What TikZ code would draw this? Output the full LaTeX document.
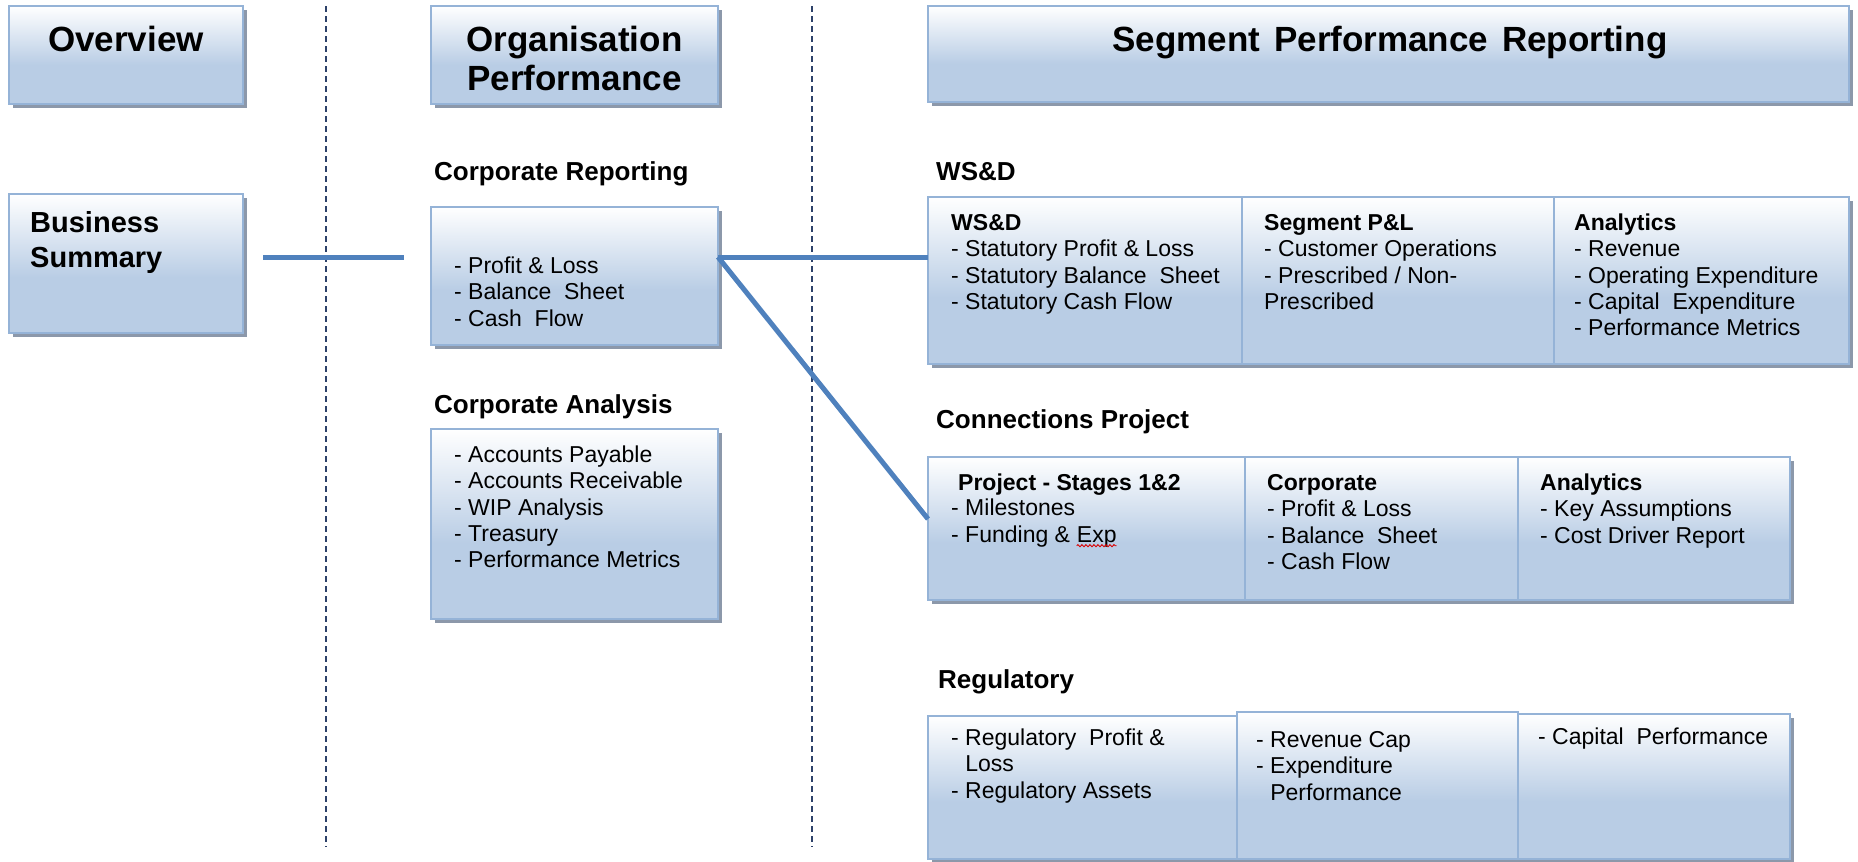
\documentclass[tikz,border=0pt]{standalone}
\usepackage{fontspec}
\setmainfont{Liberation Sans}
\usetikzlibrary{fit,shadows,decorations.pathmorphing}

\definecolor{boxblue}{RGB}{185,205,229}
\definecolor{boxedge}{RGB}{149,179,215}
\definecolor{boxshadow}{RGB}{140,152,170}
\definecolor{linkblue}{RGB}{79,129,189}
\definecolor{guideblue}{RGB}{45,65,105}

% white at the top, fading into pale blue over the lower half
\pgfdeclareverticalshading{boxfade}{100bp}{color(0bp)=(boxblue); color(25bp)=(boxblue); color(45bp)=(boxblue); color(75bp)=(white); color(100bp)=(white)}

\newcommand\bodyfont{\fontsize{23}{26.4}\selectfont}

\begin{document}
\begin{tikzpicture}[x=1pt,y=-1pt,
  box/.style={draw=boxedge, line width=2.4pt, shade, shading=boxfade,
    inner sep=0pt, outer sep=0pt,
    general shadow={fill=boxshadow, shadow xshift=3.5pt, shadow yshift=-4pt}},
  celltext/.style={anchor=north west, inner sep=0pt, align=left, font=\bodyfont},
  section/.style={anchor=base west, inner sep=0pt, font=\fontsize{26}{30}\selectfont\bfseries},
  title/.style={inner sep=0pt, align=center, font=\fontsize{35}{39.5}\selectfont\bfseries},
  link/.style={draw=linkblue, line width=5pt},
  guide/.style={draw=guideblue, line width=1.3pt, dash pattern=on 6pt off 4pt}]

\useasboundingbox (0,0) rectangle (1858,862);

% column dividers
\draw[guide] (326,6) -- (326,847);
\draw[guide] (812,6) -- (812,847);

% column headers
\node[box, fit={(9,6) (243,104)}] (ov) {};
\node[title, anchor=base] (ovt) at (126,51.5) {Overview};
\node[box, fit={(431,6) (718,104)}] (op) {};
\node[title] (opt) at (574.5,58.5) {Organisation\\Performance};
\node[box, fit={(928,6) (1849,102)}] (sp) {};
\node[title, anchor=base] (spt) at (1390,51.5) {Segment\hspace{0.4em}Performance\hspace{0.4em}Reporting};

% overview column
\node[box, fit={(9,194) (243,333)}] (bs) {};
\node[anchor=north west, inner sep=0pt, align=left,
  font=\fontsize{29}{35}\selectfont\bfseries] (bst) at (30,207.5) {\strut Business\\Summary};

% organisation column
\node[section] (crl) at (434,180.3) {Corporate Reporting};
\node[box, fit={(431,207) (718,345)}] (cr) {};
\node[celltext] (crt) at (454,254.7) {\strut- Profit \& Loss\\- Balance\ \ Sheet\\- Cash\ \ Flow};

\node[section] (cal) at (434,413.3) {Corporate Analysis};
\node[box, fit={(431,429) (718,619)}] (ca) {};
\node[celltext] (cat) at (454,443.7) {\strut- Accounts Payable\\- Accounts Receivable\\- WIP Analysis\\- Treasury\\- Performance Metrics};

% segment column: WS&D
\node[section] (wsl) at (936,180.3) {WS\&D};
\node[box, fit={(928,197) (1242,364)}] (ws1) {};
\node[box, fit={(1242,197) (1554,364)}] (ws2) {};
\node[box, fit={(1554,197) (1849,364)}] (ws3) {};
\node[celltext] (ws1t) at (951,211.7) {\strut\textbf{WS\&D}\\- Statutory Profit \& Loss\\- Statutory Balance\ \ Sheet\\- Statutory Cash Flow};
\node[celltext] (ws2t) at (1264,211.7) {\strut\textbf{Segment P\&L}\\- Customer Operations\\- Prescribed / Non-\\Prescribed};
\node[celltext] (ws3t) at (1574,211.7) {\strut\textbf{Analytics}\\- Revenue\\- Operating Expenditure\\- Capital\ \ Expenditure\\- Performance Metrics};

% segment column: Connections Project
\node[section] (cpl) at (936,428.3) {Connections Project};
\node[box, fit={(928,457) (1245,600)}] (cp1) {};
\node[box, fit={(1245,457) (1518,600)}] (cp2) {};
\node[box, fit={(1518,457) (1790,600)}] (cp3) {};
\node[celltext] (cp1h) at (958,471.7) {\strut\textbf{Project - Stages 1\&2}};
\node[celltext] (cp1t) at (951,496.7) {\strut- Milestones};
\node[anchor=base west, inner sep=0pt, font=\bodyfont] (cp1f) at (951,542.2) {- Funding \&};
\node[anchor=base west, inner sep=0pt, font=\bodyfont] (exp) at ([xshift=6.4pt]cp1f.base east) {Exp};
\draw[red!85!black, line width=0.9pt, decorate,
  decoration={snake, amplitude=1.1pt, segment length=4pt}]
  ([yshift=-3.5pt]exp.base west) -- ([yshift=-3.5pt]exp.base east);
\node[celltext] (cp2t) at (1267,471.7) {\strut\textbf{Corporate}\\- Profit \& Loss\\- Balance\ \ Sheet\\- Cash Flow};
\node[celltext] (cp3t) at (1540,471.7) {\strut\textbf{Analytics}\\- Key Assumptions\\- Cost Driver Report};

% segment column: Regulatory
\node[section] (rgl) at (938,688.3) {Regulatory};
\node[box, fit={(928,716) (1237,859)}] (rg1) {};
\node[box, fit={(1237,712) (1518,859)}] (rg2) {};
\node[box, fit={(1518,714) (1790,859)}] (rg3) {};
\node[celltext] (rg1t) at (951,726.7) {\strut- Regulatory\ \ Profit \&\\\phantom{- }Loss\\- Regulatory Assets};
\node[celltext] (rg2t) at (1256,728.7) {\strut- Revenue Cap\\- Expenditure\\\phantom{- }Performance};
\node[celltext] (rg3t) at (1538,725.7) {\strut- Capital\ \ Performance};

% connectors
\coordinate (bsout) at (263,257);
\coordinate (bsin) at (404,257);
\draw[link] (bsout) -- (bsin);
\coordinate (hub) at (cr.east |- bsin);
\draw[link] (hub) -- (ws1.west |- hub);
\coordinate (cpin) at ([yshift=-62pt]cp1.north west);
\draw[link] (hub) -- (cpin);
\end{tikzpicture}
\end{document}
